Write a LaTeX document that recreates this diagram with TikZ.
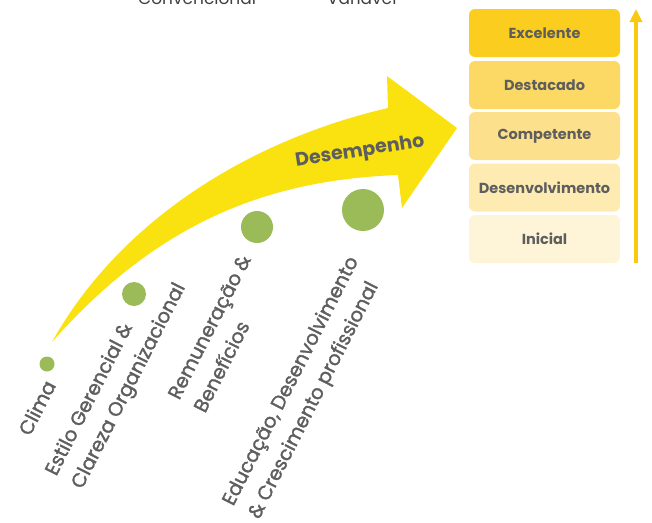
\documentclass[tikz,border=0pt]{standalone}
\usepackage{fontspec}
\setmainfont{Poppins}
\newfontfamily\labfont[FakeBold=1.5]{Poppins}
\usetikzlibrary{arrows.meta}
\definecolor{txtgrey}{HTML}{5E5E5E}
\definecolor{topgrey}{HTML}{404040}
\definecolor{arrowyellow}{HTML}{F9E20F}
\definecolor{goldarrow}{HTML}{F9C90F}
\definecolor{dotgreen}{HTML}{9BBB59}
\definecolor{lvA}{HTML}{FACD1E}
\definecolor{lvB}{HTML}{FCD865}
\definecolor{lvC}{HTML}{FDE08B}
\definecolor{lvD}{HTML}{FEEBB2}
\definecolor{lvE}{HTML}{FEF4D8}
\tikzset{
  lvl/.style={rounded corners=6pt, minimum width=151pt, minimum height=48pt,
    inner sep=0pt, text=txtgrey, font=\bfseries\fontsize{14.5}{16}\selectfont},
  dot/.style={circle, fill=dotgreen, inner sep=0pt},
  lab/.style={rotate=63, anchor=base west, align=left, inner sep=0pt,
    text=txtgrey, font=\labfont\fontsize{19.5}{29}\selectfont},
  toptext/.style={anchor=base west, inner sep=0pt, text=topgrey,
    font=\fontsize{17}{20}\selectfont},
  varrow/.style={goldarrow, line width=4pt, -{Triangle[width=12pt,length=13pt]}}
}
\begin{document}
\begin{tikzpicture}[x=1pt,y=-1pt]
\useasboundingbox (0,0) rectangle (652,522);
\begin{scope}
\clip (0,0) rectangle (652,522);
\node[toptext] (conv) at (138,5) {Convencional};
\node[toptext] (var) at (327,5) {Variável};
% curved arrow
\fill[arrowyellow] (52,342) .. controls (120,220) and (250,140) .. (388,108)
  -- (387,76) -- (457,128) -- (402,208) -- (398,175)
  .. controls (270,180) and (160,220) .. (52,342) -- cycle;
\node[rotate=9, text=txtgrey, font=\bfseries\fontsize{19}{22}\selectfont, inner sep=0pt] (des) at (360,152) {Desempenho};
% dots
\node[dot, minimum size=15pt] (d1) at (47,364) {};
\node[dot, minimum size=24pt] (d2) at (134,294) {};
\node[dot, minimum size=32pt] (d3) at (257,227) {};
\node[dot, minimum size=42pt] (d4) at (363,210) {};
% labels (anchor = baseline of last line)
\node[lab] (l1) at (30,437) {Clima};
\node[lab] (l2) at (82,490) {Estilo Gerencial \&\\Clareza Organizacional};
\node[lab] (l3) at (205,414) {Remuneração \&\\Benefícios};
\node[lab] (l4) at (259,520) {Educação, Desenvolvimento\\\& Crescimento profissional};
\end{scope}
% levels
\node[lvl, fill=lvA] (b1) at (544.5,33) {Excelente};
\node[lvl, fill=lvB] (b2) at (544.5,85) {Destacado};
\node[lvl, fill=lvC] (b3) at (544.5,136) {Competente};
\node[lvl, fill=lvD] (b4) at (544.5,187.5) {Desenvolvimento};
\node[lvl, fill=lvE] (b5) at (544.5,239) {Inicial};
\coordinate (abot) at (636,263);
\coordinate (atop) at (636,9);
\draw[varrow] (abot) -- (atop);
\end{tikzpicture}
\end{document}
